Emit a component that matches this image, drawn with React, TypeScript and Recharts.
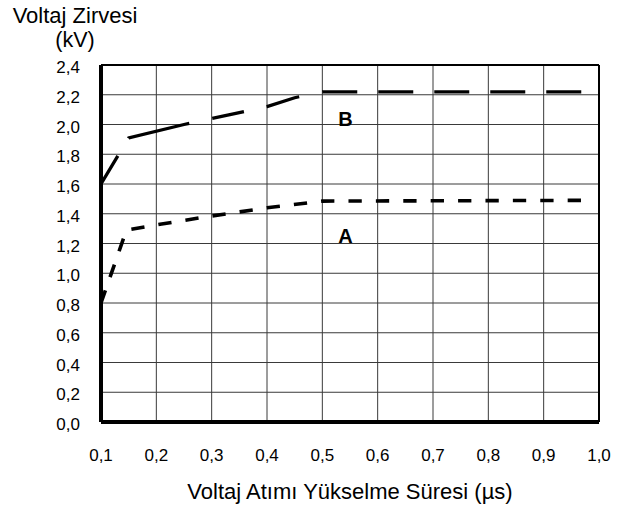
import React from 'react';
import {
  LineChart,
  Line,
  XAxis,
  YAxis,
  CartesianGrid,
  ReferenceLine,
  ReferenceDot,
} from 'recharts';

// Tick values
const xTicks = [0.1, 0.2, 0.3, 0.4, 0.5, 0.6, 0.7, 0.8, 0.9, 1.0];
const yTicks = [0, 0.2, 0.4, 0.6, 0.8, 1.0, 1.2, 1.4, 1.6, 1.8, 2.0, 2.2, 2.4];

// Curve A (short dashes)
const curveAx = [0.1, 0.146, 0.2, 0.3, 0.4, 0.5, 0.97];
const curveAy = [0.8, 1.29, 1.325, 1.385, 1.44, 1.485, 1.49];

// Curve B (long dashes)
const curveBx = [0.1, 0.15, 0.25, 0.35, 0.4, 0.45, 0.5, 0.97];
const curveBy = [1.6, 1.91, 2.0, 2.08, 2.12, 2.18, 2.22, 2.22];

// Curve name labels (placed in data space)
const curveNames = ['A', 'B'];
const curveNameX = [0.542, 0.542];
const curveNameY = [1.254, 2.04];

const titleLines = ['Voltaj Zirvesi', '(kV)'];
const xAxisTitle = 'Voltaj Atımı Yükselme Süresi (µs)';

const dataA = curveAx.map((x, i) => ({ x, y: curveAy[i] }));
const dataB = curveBx.map((x, i) => ({ x, y: curveBy[i] }));

const FONT = '"Liberation Sans", Arial, Helvetica, sans-serif';
const fmt = (v: number) => v.toFixed(1).replace('.', ',');

// Line styles (dash patterns as drawn in the original)
const dashA = '13.3 14.1';
const dashB = '32.7 20.6 62.8 23.5 32.4 23.2 34.1 23.6 35 21 35 21 35 21 35 21 35 21';

export default function App() {
  return (
    <div style={{ position: 'absolute', left: 0, top: 0, width: 626, height: 509, background: '#fff' }}>
      <LineChart
        width={626}
        height={509}
        margin={{ top: 65, right: 27, bottom: 0, left: 0 }}
        style={{ fontFamily: FONT }}
      >
        <CartesianGrid stroke="#3a3a3a" strokeWidth={1} />
        <XAxis
          type="number"
          dataKey="x"
          domain={[0.1, 1.0]}
          ticks={xTicks}
          tickFormatter={fmt}
          height={87}
          tickSize={0}
          tickMargin={27}
          tickLine={false}
          axisLine={{ stroke: '#000', strokeWidth: 4 }}
          tick={{ fill: '#000', fontSize: 17, fontFamily: FONT }}
          allowDataOverflow
          label={{
            value: xAxisTitle,
            position: 'insideBottom',
            offset: 10,
            fill: '#000',
            fontSize: 22,
            fontFamily: FONT,
          }}
        />
        <YAxis
          type="number"
          domain={[0, 2.4]}
          ticks={yTicks}
          tickFormatter={fmt}
          width={101}
          tickSize={0}
          tickMargin={21}
          tickLine={false}
          axisLine={{ stroke: '#000', strokeWidth: 4 }}
          tick={{ fill: '#000', fontSize: 17, fontFamily: FONT, dy: 2 }}
          allowDataOverflow
        />
        <ReferenceLine y={2.4} stroke="#000" strokeWidth={2} />
        <ReferenceLine x={1.0} stroke="#000" strokeWidth={2} />
        <Line
          data={dataA}
          dataKey="y"
          type="linear"
          stroke="#000"
          strokeWidth={3.6}
          strokeDasharray={dashA}
          strokeLinecap="butt"
          dot={false}
          activeDot={false}
          isAnimationActive={false}
        />
        <Line
          data={dataB}
          dataKey="y"
          type="linear"
          stroke="#000"
          strokeWidth={3.3}
          strokeDasharray={dashB}
          strokeLinecap="butt"
          dot={false}
          activeDot={false}
          isAnimationActive={false}
        />
        {curveNames.map((n, i) => (
          <ReferenceDot
            key={n}
            x={curveNameX[i]}
            y={curveNameY[i]}
            r={0}
            fill="none"
            stroke="none"
            label={{
              value: n,
              position: 'center',
              fill: '#000',
              fontSize: 20,
              fontWeight: 'bold',
              fontFamily: FONT,
            }}
          />
        ))}
      </LineChart>
      <svg
        width={626}
        height={60}
        style={{ position: 'absolute', left: 0, top: 0, pointerEvents: 'none' }}
      >
        <text x={75} y={22.5} textAnchor="middle" fontSize={22} fontFamily={FONT} fill="#000">
          {titleLines[0]}
        </text>
        <text x={75} y={47} textAnchor="middle" fontSize={21.5} fontFamily={FONT} fill="#000">
          {titleLines[1]}
        </text>
      </svg>
    </div>
  );
}
